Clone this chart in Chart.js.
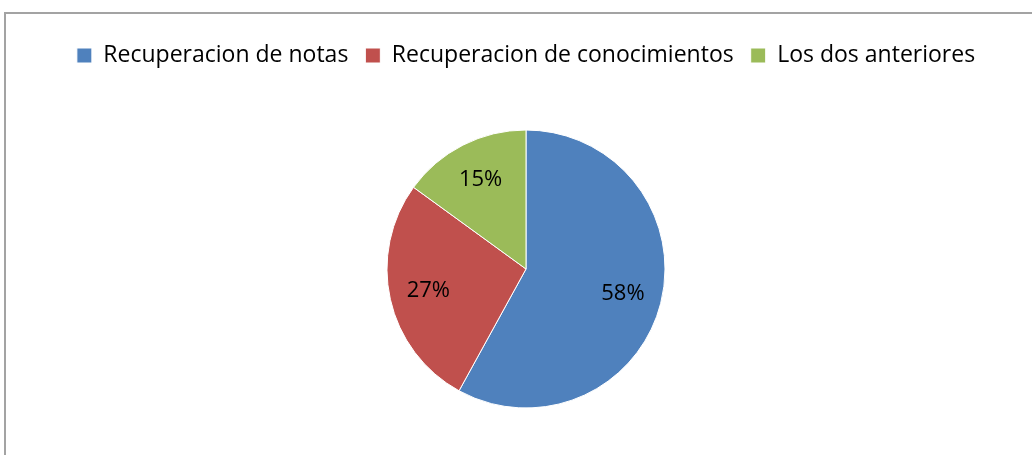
<!DOCTYPE html>
<html>
<head>
<meta charset="utf-8">
<script src="https://cdn.jsdelivr.net/npm/chart.js@4/dist/chart.umd.min.js"></script>
<style>
    html, body { margin: 0; padding: 0; background: #fff; overflow: hidden; }
    #marco {
        position: absolute; left: 4px; top: 12px; width: 1100px; height: 500px;
        border-left: 2px solid #a3a3a3; border-top: 2px solid #a3a3a3;
    }
    #contenedor { position: absolute; left: 0; top: 0; width: 1032px; height: 461px; }
</style>
</head>
<body>
<div id="marco"></div>
<div id="contenedor"><canvas id="myPieChart"></canvas></div>
<script>
// Datos del gráfico
const categorias = ['Recuperacion de notas', 'Recuperacion de conocimientos', 'Los dos anteriores'];
const valores = [58, 27, 15];
const colores = ['#4F81BD', '#C0504D', '#9BBB59'];

// Plugin para escribir el porcentaje dentro de cada sección
const etiquetasPorcentaje = {
    id: 'etiquetasPorcentaje',
    afterDatasetsDraw(chart) {
        const ctx = chart.ctx;
        const meta = chart.getDatasetMeta(0);
        const total = valores.reduce((a, b) => a + b, 0);
        ctx.save();
        ctx.font = '22px "Open Sans", sans-serif';
        ctx.fillStyle = '#000000';
        ctx.textAlign = 'center';
        ctx.textBaseline = 'middle';
        meta.data.forEach((arc, i) => {
            const medio = (arc.startAngle + arc.endAngle) / 2;
            const r = arc.outerRadius * 0.72;
            const x = arc.x + Math.cos(medio) * r;
            const y = arc.y + Math.sin(medio) * r;
            ctx.fillText(Math.round(valores[i] / total * 100) + '%', x, y);
        });
        ctx.restore();
    }
};

const data = {
    labels: categorias,
    datasets: [{
        data: valores,
        backgroundColor: colores,
        borderColor: '#FFFFFF',
        borderWidth: 1
    }]
};

const config = {
    type: 'pie',
    data: data,
    options: {
        responsive: true,
        maintainAspectRatio: false,
        animation: false,
        radius: 139,
        layout: {
            padding: { top: 27, left: 20, right: 0, bottom: 0 }
        },
        plugins: {
            tooltip: { enabled: false },
            legend: {
                position: 'top',
                labels: {
                    boxWidth: 15,
                    boxHeight: 15,
                    padding: 17,
                    color: '#000000',
                    font: { family: '"Open Sans", sans-serif', size: 23 }
                }
            }
        }
    },
    plugins: [etiquetasPorcentaje]
};

// Crear el gráfico
const ctx = document.getElementById('myPieChart').getContext('2d');
new Chart(ctx, config);
</script>
</body>
</html>
